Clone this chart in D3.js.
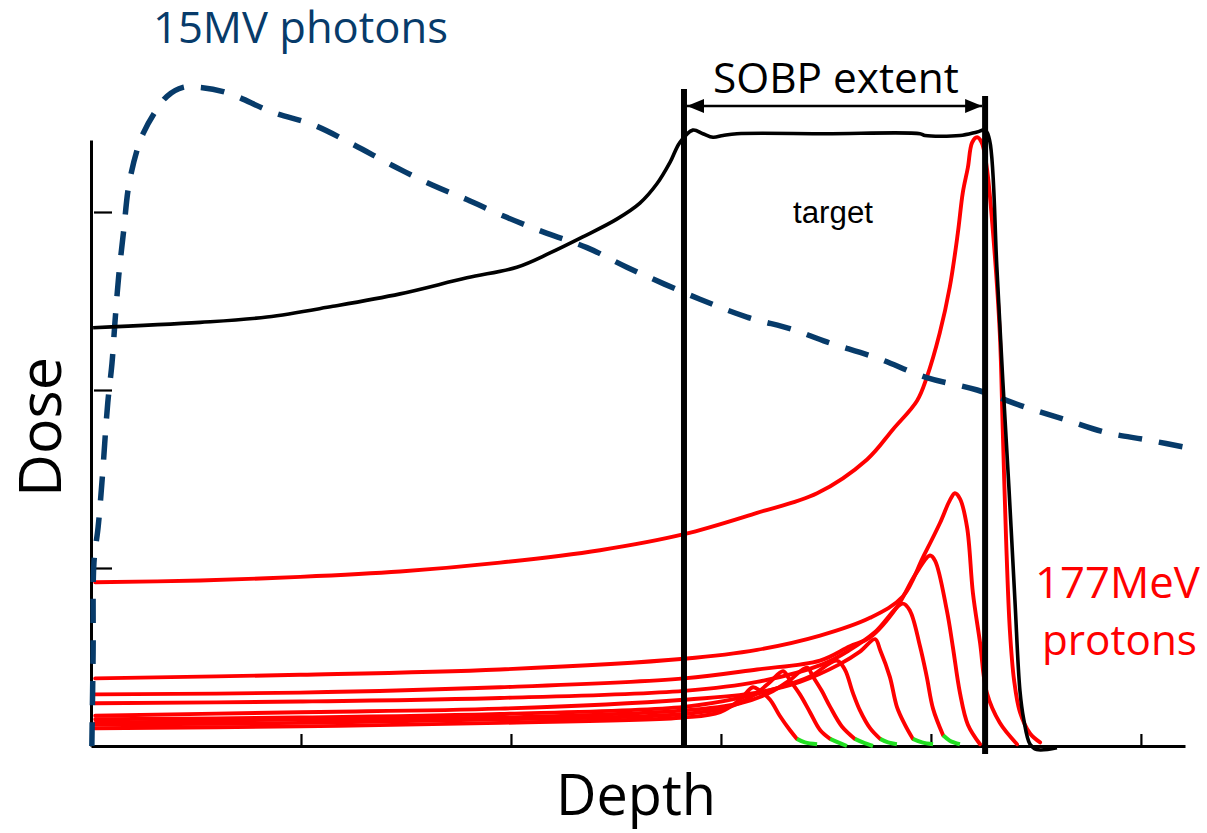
<!DOCTYPE html>
<html>
<head>
<meta charset="utf-8">
<script src="https://cdn.jsdelivr.net/npm/d3@7"></script>
<style>
  body { margin: 0; background: #fff; }
  svg { display: block; }
</style>
</head>
<body>
<div id="chart"></div>
<script>
// Depth (arbitrary cm) and relative dose
const depthTicks = [5, 10, 15, 20, 25];
const doseTicks = [1, 2, 3];
const sobpEdges = [14.12, 21.29];

const photon15MV = [[0.02,0],[0.05,0.52],[0.07,1.03],[0.17,1.23],[0.26,1.48],[0.40,1.93],[0.50,2.15],
  [0.57,2.38],[0.66,2.64],[0.78,2.90],[0.90,3.15],[1.10,3.35],[1.24,3.44],[1.52,3.56],[1.81,3.65],
  [2.19,3.70],[2.60,3.70],[3.24,3.67],[4.33,3.56],[5.29,3.49],[6.24,3.38],[7.19,3.26],[8.14,3.15],
  [8.95,3.07],[9.90,2.97],[10.86,2.88],[11.81,2.80],[12.76,2.69],[14.50,2.51],[15.62,2.41],
  [16.71,2.34],[17.52,2.27],[18.71,2.18],[19.90,2.07],[21.10,2.00],[22.29,1.90],[23.24,1.83],
  [24.19,1.76],[25.14,1.72],[26.24,1.67]];

const sobpSum = [[0.05,2.35],[2.60,2.38],[4.19,2.41],[5.76,2.47],[7.36,2.54],[8.95,2.63],[10.14,2.69],
  [10.93,2.77],[11.71,2.86],[12.52,2.96],[13.07,3.05],[13.48,3.16],[13.79,3.28],[14.02,3.39],
  [14.33,3.46],[14.57,3.44],[14.81,3.42],[15.05,3.43],[15.38,3.44],[17.50,3.44],[19.74,3.44],
  [19.86,3.43],[20.69,3.43],[21.10,3.45],[21.29,3.46],[21.40,3.40],[21.57,2.69],[21.71,2.06],
  [21.86,1.44],[22.00,0.82],[22.12,0.31],[22.21,0.15],[22.36,0.01],[22.52,-0.02],[23.00,-0.01]];

// pristine Bragg peaks, deepest first
const protonA = [[0.10,0.92],[2.60,0.93],[4.98,0.95],[7.36,0.98],[9.74,1.03],[12.12,1.10],[14.12,1.19],
  [15.86,1.31],[17.29,1.42],[18.48,1.61],[19.10,1.78],[19.67,1.94],[19.90,2.07],[20.21,2.32],
  [20.45,2.58],[20.64,2.88],[20.76,3.11],[20.88,3.25],[20.98,3.39],[21.10,3.42],[21.21,3.39],
  [21.33,3.25],[21.48,2.88],[21.64,2.32],[21.71,1.78],[21.79,1.16],[21.88,0.65],[21.98,0.37],
  [22.12,0.19],[22.36,0.07],[22.60,0.02]];
const protonB = [[0.10,0.38],[4.98,0.40],[9.74,0.43],[14.12,0.49],[15.86,0.54],[17.36,0.62],[18.55,0.72],
  [19.33,0.84],[19.81,1.06],[20.21,1.25],[20.45,1.38],[20.57,1.42],[20.69,1.39],[20.86,1.23],
  [21.00,0.86],[21.17,0.58],[21.33,0.30],[21.64,0.13],[22.05,0.01]];
const protonC = [[0.10,0.29],[4.98,0.30],[9.74,0.33],[14.12,0.38],[15.86,0.43],[17.36,0.48],[18.07,0.56],
  [18.55,0.61],[19.19,0.78],[19.62,0.96],[19.98,1.07],[20.10,1.04],[20.38,0.76],[20.52,0.56],
  [20.69,0.30],[20.88,0.12],[21.17,0.01]];
const protonD = [[0.10,0.24],[4.98,0.25],[9.74,0.27],[14.12,0.31],[15.86,0.36],[17.43,0.46],[18.07,0.54],
  [18.67,0.64],[19.33,0.80],[19.50,0.76],[19.74,0.56],[19.90,0.39],[20.05,0.21],[20.29,0.06]];
const protonE = [[0.10,0.17],[4.98,0.19],[9.74,0.21],[14.12,0.26],[15.86,0.30],[16.88,0.36],[17.83,0.46],
  [18.31,0.53],[18.67,0.60],[18.79,0.54],[19.02,0.39],[19.19,0.22],[19.38,0.12],[19.57,0.04]];
const protonF = [[0.10,0.15],[4.98,0.16],[9.74,0.18],[14.12,0.22],[15.45,0.27],[16.40,0.33],[17.12,0.39],
  [17.76,0.48],[17.95,0.43],[18.14,0.30],[18.31,0.20],[18.55,0.10],[18.79,0.04]];
const protonG = [[0.10,0.13],[4.98,0.15],[9.74,0.16],[14.12,0.20],[15.45,0.24],[16.17,0.30],[16.64,0.37],
  [17.05,0.44],[17.19,0.39],[17.40,0.31],[17.60,0.22],[17.88,0.11],[18.19,0.04]];
const protonH = [[0.10,0.12],[4.98,0.13],[9.74,0.15],[14.12,0.18],[15.21,0.22],[15.81,0.29],[16.17,0.36],
  [16.48,0.42],[16.64,0.37],[16.88,0.29],[17.12,0.19],[17.36,0.09],[17.60,0.04]];
const protonI = [[0.10,0.10],[4.98,0.11],[9.74,0.13],[14.12,0.16],[14.98,0.19],[15.45,0.26],[15.76,0.33],
  [15.93,0.31],[16.17,0.26],[16.40,0.17],[16.64,0.09],[16.81,0.04]];

// distal tails drawn in green
const tailD = [[20.29,0.06],[20.45,0.03],[20.69,0.01]];
const tailE = [[19.57,0.04],[19.79,0.02],[20.05,0.01]];
const tailF = [[18.79,0.04],[18.98,0.02],[19.19,0.01]];
const tailG = [[18.19,0.04],[18.38,0.02],[18.62,0.00]];
const tailH = [[17.60,0.04],[17.79,0.02],[18.00,0.00]];
const tailI = [[16.81,0.04],[17.00,0.02],[17.29,0.01]];

const protonCurves = [protonA, protonB, protonC, protonD, protonE, protonF, protonG, protonH, protonI];
const protonTails = [tailD, tailE, tailF, tailG, tailH, tailI];

class DepthDoseChart {
  constructor(_config) {
    this.config = {
      parentElement: _config.parentElement,
      containerWidth: 1207,
      containerHeight: 833,
      axisLeft: 91,
      axisRight: 1185,
      axisBottom: 746,
      axisTop: 140,
      doseUnit: 178,
      depthMax: 26.05,
      red: '#ff0000',
      green: '#22e022',
      blue: '#073b6a'
    };
    this.initVis();
  }

  initVis() {
    let vis = this;
    const c = vis.config;

    vis.svg = d3.select(c.parentElement).append('svg')
      .attr('width', c.containerWidth)
      .attr('height', c.containerHeight);

    vis.xScale = d3.scaleLinear().domain([0, c.depthMax]).range([c.axisLeft, c.axisRight]);
    vis.yScale = d3.scaleLinear()
      .domain([0, (c.axisBottom - c.axisTop) / c.doseUnit])
      .range([c.axisBottom, c.axisTop]);

    vis.line = d3.line()
      .x(d => vis.xScale(d[0]))
      .y(d => vis.yScale(d[1]))
      .curve(d3.curveCatmullRom.alpha(0.5));

    vis.defs = vis.svg.append('defs');
    vis.defs.append('marker')
      .attr('id', 'arrow')
      .attr('markerUnits', 'userSpaceOnUse')
      .attr('markerWidth', 18).attr('markerHeight', 14)
      .attr('refX', 17).attr('refY', 7)
      .attr('orient', 'auto-start-reverse')
      .append('path')
        .attr('d', 'M0,0 L17,7 L0,14 Z')
        .attr('fill', '#000');

    vis.renderVis();
  }

  renderVis() {
    let vis = this;
    const c = vis.config;

    // axes
    const xAxis = d3.axisBottom(vis.xScale)
      .tickValues(depthTicks).tickSize(-12).tickSizeOuter(0).tickFormat('');
    vis.svg.append('g')
      .attr('transform', `translate(0,${c.axisBottom})`)
      .call(xAxis)
      .call(g => g.select('.domain').attr('stroke-width', 3))
      .call(g => g.selectAll('.tick line').attr('stroke-width', 2.2));

    const yAxis = d3.axisRight(vis.yScale)
      .tickValues(doseTicks).tickSize(21).tickSizeOuter(0).tickFormat('');
    vis.svg.append('g')
      .attr('transform', `translate(${c.axisLeft},0)`)
      .call(yAxis)
      .call(g => g.select('.domain').attr('stroke-width', 3))
      .call(g => g.selectAll('.tick line').attr('stroke-width', 2.2).attr('x1', 3));

    // proton Bragg curves
    vis.svg.append('g').selectAll('.bragg')
      .data(protonCurves)
      .join('path')
        .attr('class', 'bragg')
        .attr('d', vis.line)
        .attr('fill', 'none')
        .attr('stroke', c.red)
        .attr('stroke-width', 3.9)
        .attr('stroke-linejoin', 'round')
        .attr('stroke-linecap', 'round');

    vis.svg.append('g').selectAll('.tail')
      .data(protonTails)
      .join('path')
        .attr('class', 'tail')
        .attr('d', vis.line)
        .attr('fill', 'none')
        .attr('stroke', c.green)
        .attr('stroke-width', 4);

    // 15MV photons
    vis.svg.append('path')
      .datum(photon15MV)
      .attr('d', vis.line)
      .attr('fill', 'none')
      .attr('stroke', c.blue)
      .attr('stroke-width', 5.5)
      .attr('stroke-dasharray', '24,17');

    // summed SOBP
    vis.svg.append('path')
      .datum(sobpSum)
      .attr('d', vis.line)
      .attr('fill', 'none')
      .attr('stroke', '#000')
      .attr('stroke-width', 3.6)
      .attr('stroke-linejoin', 'round');

    // SOBP edges and extent arrow
    const tops = [89, 96], bottoms = [748, 754];
    vis.svg.selectAll('.edge')
      .data(sobpEdges)
      .join('line')
        .attr('class', 'edge')
        .attr('x1', d => vis.xScale(d)).attr('x2', d => vis.xScale(d))
        .attr('y1', (d, i) => tops[i]).attr('y2', (d, i) => bottoms[i])
        .attr('stroke', '#000')
        .attr('stroke-width', 6);

    vis.svg.append('line')
      .attr('x1', vis.xScale(sobpEdges[0]) + 3)
      .attr('x2', vis.xScale(sobpEdges[1]) - 3)
      .attr('y1', 106).attr('y2', 106)
      .attr('stroke', '#000')
      .attr('stroke-width', 2.5)
      .attr('marker-start', 'url(#arrow)')
      .attr('marker-end', 'url(#arrow)');

    // labels
    const sans = "'Open Sans', 'Noto Sans', sans-serif";
    const fit = (sel, w) => {
      const len = sel.node().getComputedTextLength();
      sel.attr('font-size', parseFloat(sel.attr('font-size')) * w / len);
    };

    fit(vis.svg.append('text')
      .attr('x', 153).attr('y', 43)
      .attr('font-family', sans).attr('font-size', 36)
      .attr('fill', c.blue)
      .text('15MV photons'), 295);

    fit(vis.svg.append('text')
      .attr('x', 713).attr('y', 93)
      .attr('font-family', sans).attr('font-size', 36)
      .attr('fill', '#000')
      .text('SOBP extent'), 246);

    fit(vis.svg.append('text')
      .attr('x', 793).attr('y', 223)
      .attr('font-family', "'Liberation Sans', Arial, sans-serif").attr('font-size', 26)
      .attr('fill', '#000')
      .text('target'), 80);

    fit(vis.svg.append('text')
      .attr('x', 1035).attr('y', 598)
      .attr('font-family', sans).attr('font-size', 38)
      .attr('fill', c.red)
      .text('177MeV'), 165);

    fit(vis.svg.append('text')
      .attr('x', 1042).attr('y', 655)
      .attr('font-family', sans).attr('font-size', 38)
      .attr('fill', c.red)
      .text('protons'), 155);

    fit(vis.svg.append('text')
      .attr('x', 556).attr('y', 815)
      .attr('font-family', sans).attr('font-size', 56)
      .attr('fill', '#000')
      .text('Depth'), 160);

    fit(vis.svg.append('text')
      .attr('transform', 'translate(61,497) rotate(-90)')
      .attr('font-family', sans).attr('font-size', 56)
      .attr('fill', '#000')
      .text('Dose'), 140);
  }
}

new DepthDoseChart({ parentElement: '#chart' });
</script>
</body>
</html>
